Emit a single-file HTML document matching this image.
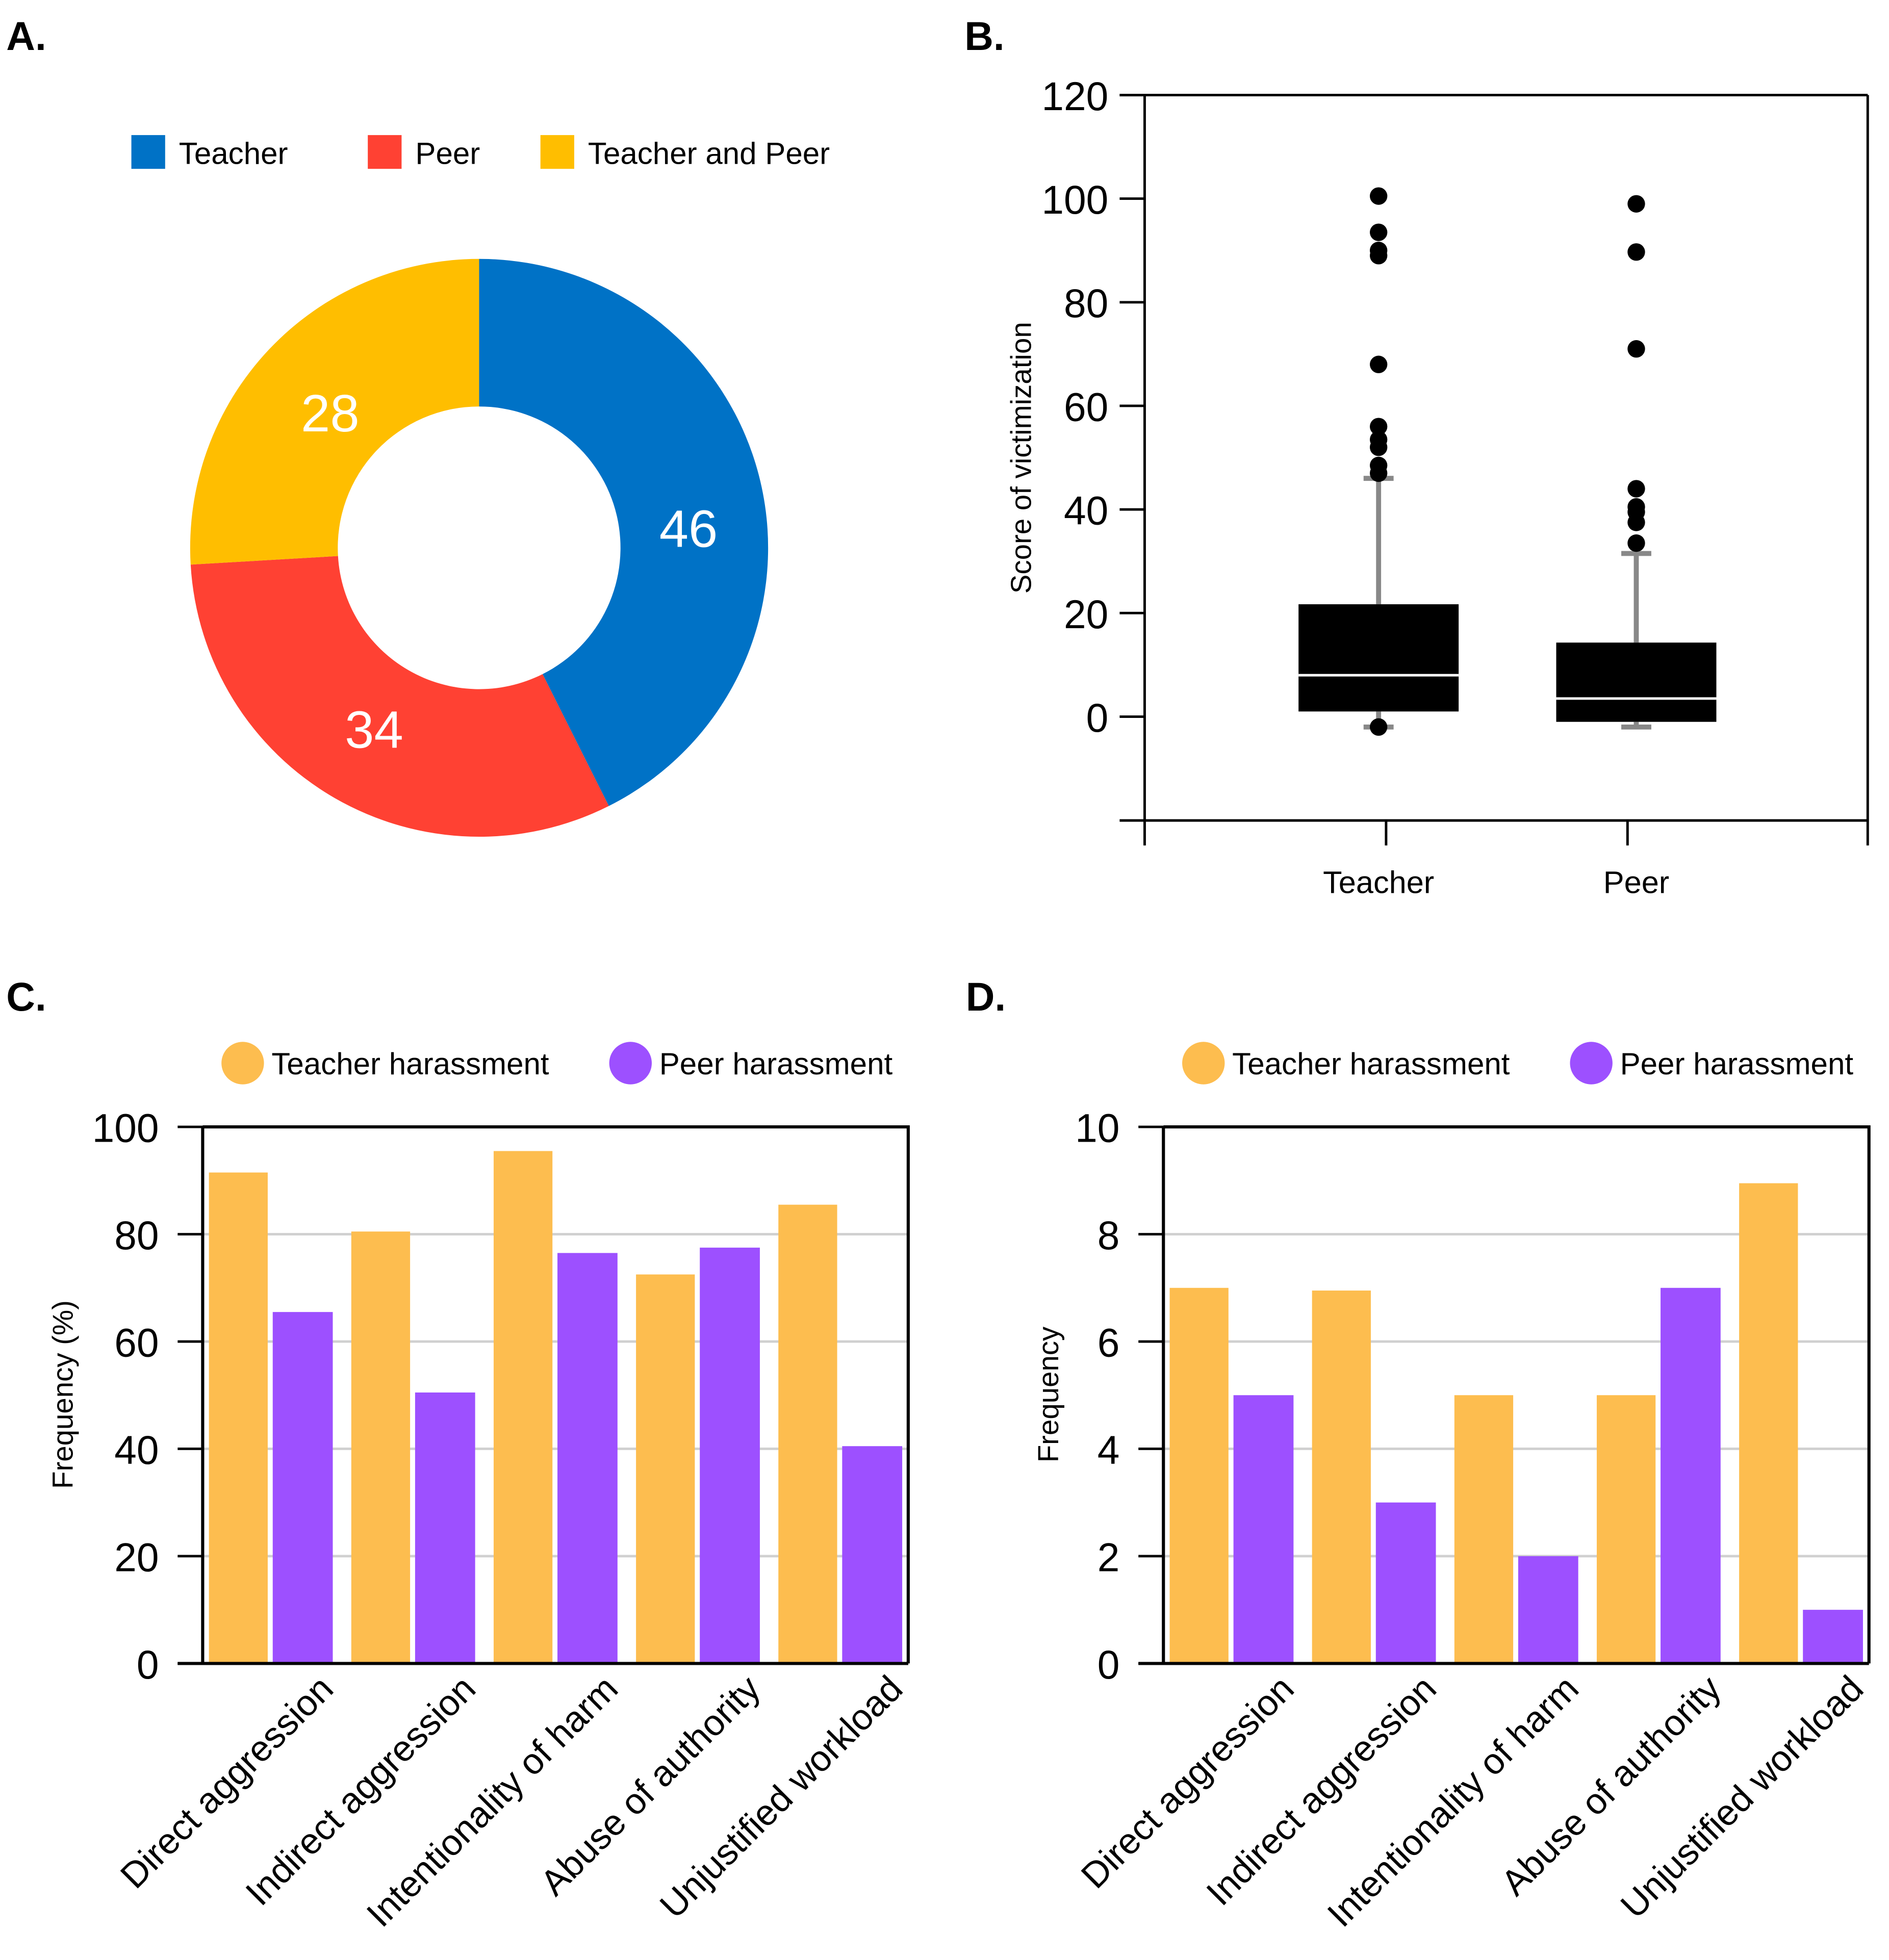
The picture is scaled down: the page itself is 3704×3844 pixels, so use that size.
<!DOCTYPE html>
<html><head><meta charset="utf-8"><style>
html,body{margin:0;padding:0;background:#fff}
svg{display:block;font-family:"Liberation Sans",Arial,sans-serif}
</style></head><body>
<svg id="fig" width="3704" height="3844" viewBox="0 0 1510 1567.1">
<g id="pA"></g>
<g id="pB"></g>
<g id="pC"></g>
<g id="pD"></g>
</svg>
<script>
const NS='http://www.w3.org/2000/svg';
// Panel A data
const donutLabels=['Teacher','Peer','Teacher and Peer'];
const donutValues=[46,34,28];
// Panel B data
const boxCats=['Teacher','Peer'];
const boxQ1=[1,-1];
const boxMedian=[8,3.5];
const boxQ3=[21.7,14.3];
const boxWhiskLo=[-2,-2];
const boxWhiskHi=[46,31.5];
const outTeacher=[100.5,93.5,90,89,68,56,53.5,52,48.5,47,-2];
const outPeer=[99,89.7,71,44,40.5,39.5,37.5,33.5];
const boxTicks=[0,20,40,60,80,100,120];
// Panel C/D data
const barCats=['Direct aggression','Indirect aggression','Intentionality of harm','Abuse of authority','Unjustified workload'];
const pctTeacher=[91.5,80.5,95.5,72.5,85.5];
const pctPeer=[65.5,50.5,76.5,77.5,40.5];
const pctTicks=[0,20,40,60,80,100];
const freqTeacher=[7,6.95,5,5,8.95];
const freqPeer=[5,3,2,7,1];
const freqTicks=[0,2,4,6,8,10];

function mk(parent,tag,attrs,text){const e=document.createElementNS(NS,tag);for(const k in attrs)e.setAttribute(k,attrs[k]);if(text!==undefined)e.textContent=text;parent.appendChild(e);return e;}

// ---------- Panel A ----------
const A=document.getElementById('pA');
let t=mk(A,'text',{x:5,y:40,'font-size':32,'font-weight':'bold'},'A.');


const donutColors=['#0072C6','#FF4133','#FFBE00'];
const legX=[105,294,432];
donutLabels.forEach((l,i)=>{
  const r=mk(A,'rect',{x:legX[i],y:108,width:27,height:27,fill:donutColors[i]});
  
  
  const tx=mk(A,'text',{x:legX[i]+38,y:131,'font-size':24.5},l);
  
  
});
const cx=383,cy=438,R=231,r0=113;
const labelShift=[[0,24],[2,-4],[6,10]];
const total=donutValues.reduce((a,b)=>a+b,0);
let ang=0;
donutValues.forEach((v,i)=>{
  const a0=ang, a1=ang+v/total*2*Math.PI; ang=a1;
  const p=(a,rr)=>[cx+rr*Math.sin(a),cy-rr*Math.cos(a)];
  const large=(a1-a0)>Math.PI?1:0;
  const [x0,y0]=p(a0,R),[x1,y1]=p(a1,R),[x2,y2]=p(a1,r0),[x3,y3]=p(a0,r0);
  const path=mk(A,'path',{d:`M${x0},${y0}A${R},${R} 0 ${large} 1 ${x1},${y1}L${x2},${y2}A${r0},${r0} 0 ${large} 0 ${x3},${y3}Z`,fill:donutColors[i]});
  
  
  const am=(a0+a1)/2,[lx,ly]=p(am,(R+r0)/2);
  const lt=mk(A,'text',{x:lx+labelShift[i][0],y:ly+15+labelShift[i][1],'font-size':42,fill:'#fff','text-anchor':'middle'},String(v));
  
  
});

// ---------- Panel B ----------
const B=document.getElementById('pB');
t=mk(B,'text',{x:771,y:40,'font-size':32,'font-weight':'bold'},'B.');


const by=v=>573-v*(573-76)/120;
const bxC=[1102,1308];
const ax=[['M915,76V676'],['M895,76H1493'],['M1493,76V676'],['M895,656H1493'],['M1108,656V676'],['M1301,656V676']];
ax.forEach((d,i)=>{const l=mk(B,'path',{d:d[0],stroke:'#000','stroke-width':2,fill:'none'});
  
  });
boxTicks.forEach(v=>{
  const l=mk(B,'path',{d:`M895,${by(v)}H915`,stroke:'#000','stroke-width':2});
  
  
  const tx=mk(B,'text',{x:886,y:by(v)+12,'font-size':32,'text-anchor':'end'},String(v));
  
  
});
t=mk(B,'text',{x:0,y:0,'font-size':23,'text-anchor':'middle',transform:'translate(824,366) rotate(-90)'},'Score of victimization');


const outs=[outTeacher,outPeer];
boxCats.forEach((c,i)=>{
  const x=bxC[i],w=128;
  const wh=mk(B,'path',{d:`M${x},${by(boxQ3[i])}V${by(boxWhiskHi[i])}M${x-12},${by(boxWhiskHi[i])}H${x+12}M${x},${by(boxQ1[i])}V${by(boxWhiskLo[i])}M${x-12},${by(boxWhiskLo[i])}H${x+12}`,stroke:'#888','stroke-width':4,fill:'none'});
  
  
  const bx=mk(B,'rect',{x:x-w/2,y:by(boxQ3[i]),width:w,height:by(boxQ1[i])-by(boxQ3[i]),fill:'#000'});
  
  
  const md=mk(B,'path',{d:`M${x-w/2},${by(boxMedian[i])}H${x+w/2}`,stroke:'#fff','stroke-width':2});
  
  
  outs[i].forEach(v=>{const o=mk(B,'circle',{cx:x,cy:by(v),r:7,fill:'#000'});
    
    });
  const tx=mk(B,'text',{x:x,y:714,'font-size':25,'text-anchor':'middle'},c);
  
  
});

// ---------- Panels C & D ----------
function barPanel(g,ox,label,tVals,pVals,ticks,maxV,title){
  const left=162+ox,right=726+ox,top=901,bot=1330;
  const yS=v=>bot-v*(bot-top)/maxV;
  let e=mk(g,'text',{x:5+ox+(ox?-1:0),y:808,'font-size':32,'font-weight':'bold'},label);
  
  
  const lc=[[194,'#FDBD4F','Teacher harassment'],[504,'#9D50FF','Peer harassment']];
  lc.forEach((d,i)=>{
    const c=mk(g,'circle',{cx:d[0]+ox,cy:850,r:17,fill:d[1]});
    
    
    const tx=mk(g,'text',{x:d[0]+23+ox,y:859,'font-size':24.5},d[2]);
    
    
  });
  ticks.forEach(v=>{
    if(v>0&&v<maxV){const gl=mk(g,'path',{d:`M${left},${yS(v)}H${right}`,stroke:'#d0d0d0','stroke-width':2});
      
      }
    const tk=mk(g,'path',{d:`M${left-20},${yS(v)}H${left}`,stroke:'#000','stroke-width':2});
    
    
    const tx=mk(g,'text',{x:left-35,y:yS(v)+12,'font-size':32,'text-anchor':'end'},String(v));
    
    
  });
  const gw=113.8;
  barCats.forEach((c,i)=>{
    const gx=left+5+i*gw;
    const b1=mk(g,'rect',{x:gx,y:yS(tVals[i]),width:47,height:bot-yS(tVals[i]),fill:'#FDBD4F'});
    
    
    const b2=mk(g,'rect',{x:gx+51,y:yS(pVals[i]),width:48,height:bot-yS(pVals[i]),fill:'#9D50FF'});
    
    
    const tx=mk(g,'text',{x:0,y:0,'font-size':29,'text-anchor':'end',transform:`translate(${gx+101},${1352}) rotate(-45)`},c);
    
    
  });
  e=mk(g,'path',{d:`M${left},${top}H${right}V${bot}M${left},${top}V${bot}M${left-20},${bot}H${right}`,stroke:'#000','stroke-width':2.5,fill:'none'});
  
  
  e=mk(g,'text',{x:0,y:0,'font-size':23,'text-anchor':'middle',transform:`translate(${58+ox+(ox?20:0)},${1115}) rotate(-90)`},title);
  
  
}
barPanel(document.getElementById('pC'),0,'C.',pctTeacher,pctPeer,pctTicks,100,'Frequency (%)');
barPanel(document.getElementById('pD'),768,'D.',freqTeacher,freqPeer,freqTicks,10,'Frequency');
</script>
</body></html>
